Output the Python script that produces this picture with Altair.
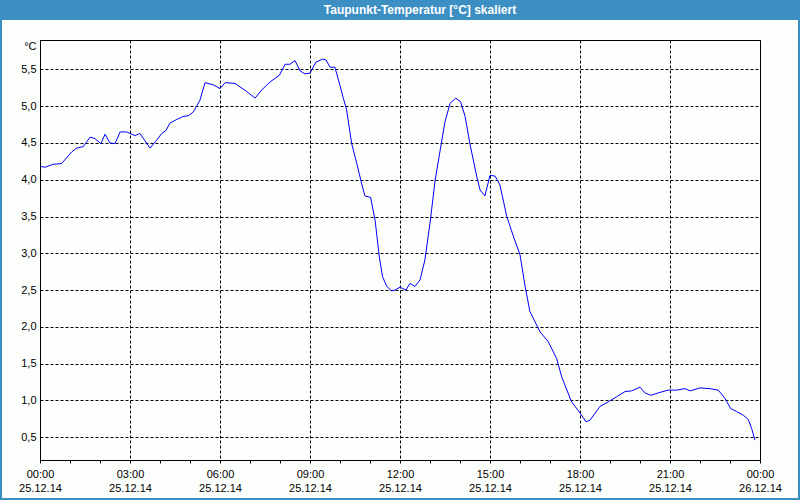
import altair as alt
import pandas as pd

# ---- data (hours after 25.12.14 00:00, dew point in °C) ----
hours = [0.03, 0.17, 0.44, 0.72, 1.06, 1.22, 1.44, 1.67, 1.83, 2.03, 2.17, 2.33, 2.5, 2.67, 2.89,
         3.17, 3.33, 3.67, 3.89, 4.06, 4.2, 4.33, 4.56, 4.76, 4.94, 5.11, 5.33, 5.5, 5.78, 6.0,
         6.17, 6.5, 6.89, 7.17, 7.39, 7.67, 7.98, 8.17, 8.33, 8.5, 8.67, 8.83, 9.0, 9.2, 9.42,
         9.53, 9.67, 9.83, 10.0, 10.11, 10.22, 10.39, 10.56, 10.72, 10.83, 11.02, 11.17, 11.31,
         11.42, 11.56, 11.72, 11.83, 12.0, 12.2, 12.33, 12.5, 12.67, 12.83, 13.0, 13.17, 13.33,
         13.5, 13.67, 13.86, 14.02, 14.17, 14.33, 14.56, 14.67, 14.83, 15.0, 15.17, 15.33, 15.56,
         15.78, 16.0, 16.17, 16.33, 16.67, 16.94, 17.22, 17.39, 17.72, 18.0, 18.2, 18.33, 18.67,
         18.94, 19.22, 19.5, 19.72, 20.0, 20.17, 20.36, 20.67, 20.94, 21.22, 21.5, 21.67, 22.0,
         22.33, 22.61, 22.83, 23.02, 23.22, 23.44, 23.61, 23.72, 23.83]
values = [4.18, 4.17, 4.21, 4.22, 4.38, 4.43, 4.45, 4.58, 4.56, 4.49, 4.62, 4.50, 4.49, 4.65, 4.65,
          4.60, 4.63, 4.43, 4.54, 4.63, 4.67, 4.77, 4.82, 4.86, 4.87, 4.92, 5.08, 5.32, 5.29, 5.24,
          5.32, 5.31, 5.20, 5.11, 5.22, 5.33, 5.42, 5.57, 5.57, 5.62, 5.48, 5.44, 5.45, 5.60, 5.64,
          5.63, 5.53, 5.53, 5.28, 5.11, 4.95, 4.49, 4.22, 3.95, 3.78, 3.76, 3.45, 2.95,
          2.68, 2.55, 2.49, 2.50, 2.54, 2.50, 2.59, 2.55, 2.64, 2.91, 3.41, 3.99, 4.38,
          4.79, 5.04, 5.11, 5.06, 4.86, 4.49, 4.04, 3.86, 3.78, 4.06, 4.05, 3.93, 3.50,
          3.23, 2.98, 2.55, 2.21, 1.93, 1.80, 1.57, 1.32, 0.98, 0.83, 0.71, 0.73, 0.92,
          0.98, 1.05, 1.12, 1.13, 1.18, 1.10, 1.07, 1.11, 1.14, 1.14, 1.16, 1.13, 1.17,
          1.16, 1.14, 1.03, 0.89, 0.85, 0.80, 0.74, 0.62, 0.46]

y_ticks = [0.5, 1.0, 1.5, 2.0, 2.5, 3.0, 3.5, 4.0, 4.5, 5.0, 5.5]
x_ticks = list(range(0, 25))
x_label_time = ["00:00", "03:00", "06:00", "09:00", "12:00", "15:00", "18:00", "21:00", "00:00"]
x_label_date = ["25.12.14"] * 8 + ["26.12.14"]
title_text = "Taupunkt-Temperatur [°C] skaliert"
unit = "°C"

FONT = "Liberation Sans"
BLUE = "#3c8fc3"

df = pd.DataFrame({"h": hours, "v": values})
deco = pd.DataFrame({"t": [title_text]})

times_js = "[" + ",".join(f"'{t}'" for t in x_label_time) + "]"
dates_js = "[" + ",".join(f"'{d}'" for d in x_label_date) + "]"
label_expr = (f"datum.value % 3 === 0 ? [{times_js}[datum.value / 3], "
              f"{dates_js}[datum.value / 3]] : ''")

line = alt.Chart(df).mark_line(color="#0000ff", strokeWidth=1, clip=True).encode(
    x=alt.X("h:Q",
            scale=alt.Scale(domain=[0, 24], nice=False, zero=False),
            axis=alt.Axis(values=x_ticks, labelExpr=label_expr, title=None,
                          grid=True,
                          gridOpacity={"condition": {"test": "datum.value % 3 === 0", "value": 1}, "value": 0},
                          gridColor="black", gridDash=[3, 2], gridWidth=1,
                          tickSize=3, tickColor="black", domainColor="black",
                          labelFlush=False, labelOverlap=False, labelPadding=5,
                          labelBaseline="top", labelLineHeight=14,
                          labelFont=FONT, labelFontSize=11, labelColor="black")),
    y=alt.Y("v:Q",
            scale=alt.Scale(domain=[0.19, 5.9], nice=False, zero=False),
            axis=alt.Axis(values=y_ticks,
                          labelExpr="replace(format(datum.value, '.1f'), '.', ',')",
                          title=unit, titleAngle=0, titleAlign="right", titleBaseline="middle",
                          titleX=-4, titleY=6, titleFont=FONT, titleFontSize=11,
                          titleFontWeight="normal", titleColor="black",
                          grid=True, gridColor="black", gridDash=[3, 2], gridWidth=1,
                          tickSize=0, domainColor="black", labelPadding=4,
                          labelFont=FONT, labelFontSize=11, labelColor="black")),
)

title_bar = alt.Chart(deco).mark_rect(color=BLUE).encode(
    x=alt.value(-40), x2=alt.value(760), y=alt.value(-40), y2=alt.value(-20))

border = alt.Chart(deco).mark_rect(fillOpacity=0, stroke=BLUE, strokeWidth=2).encode(
    x=alt.value(-39), x2=alt.value(759), y=alt.value(-40), y2=alt.value(459))

title = alt.Chart(deco).mark_text(color="white", font=FONT, fontSize=12, fontWeight="bold",
                                  align="center", baseline="middle").encode(
    text="t:N", x=alt.value(380), y=alt.value(-30))

chart = alt.layer(line, title_bar, border, title).properties(
    width=720, height=420,
    autosize=alt.AutoSizeParams(type="none"),
    padding={"left": 40, "top": 40, "right": 40, "bottom": 40},
    background="#fcfefc",
).configure_view(stroke="black", strokeWidth=1)

chart.save("out.html", embed_options={"renderer": "svg", "actions": False})
